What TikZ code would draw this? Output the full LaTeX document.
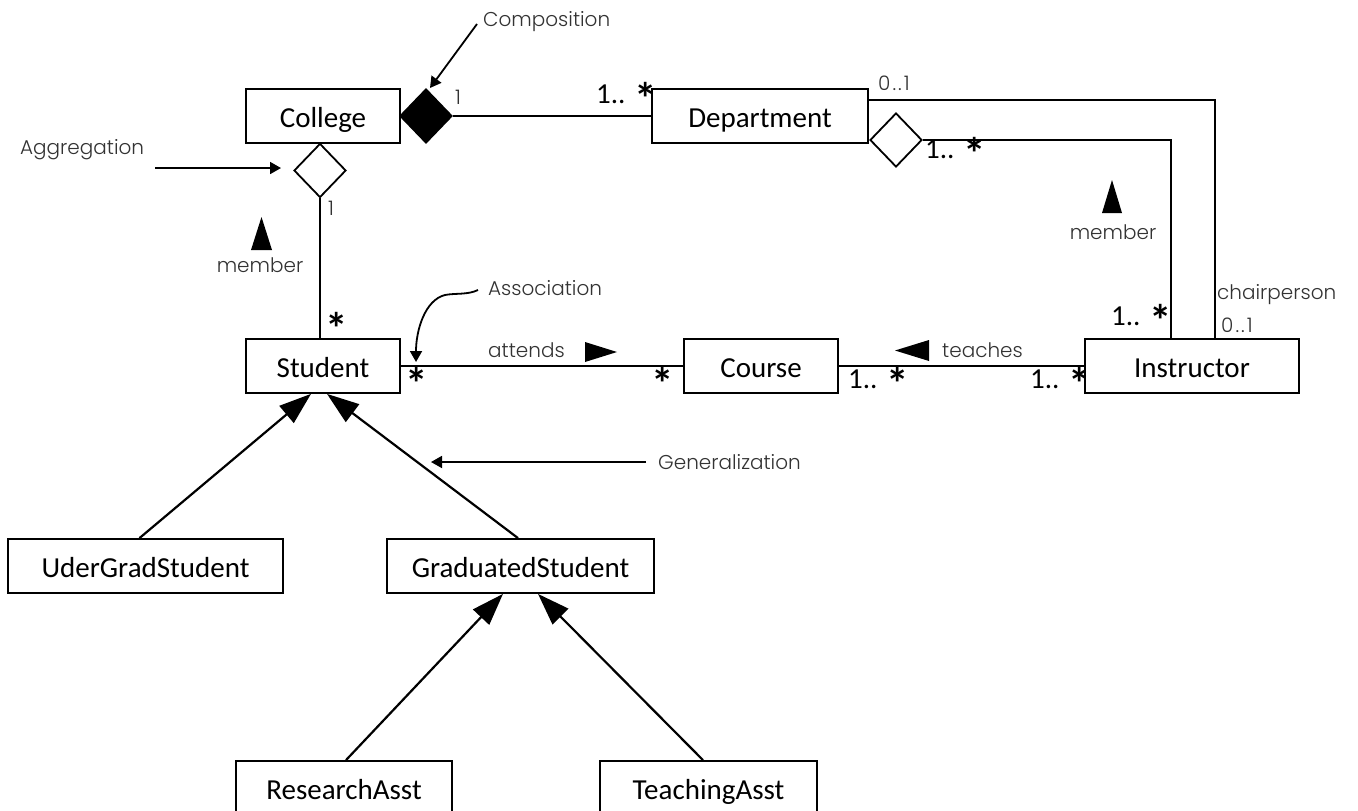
\documentclass[tikz,border=0pt]{standalone}
\usepackage{fontspec}
\setmainfont{Carlito}
\newfontfamily\annotfont{Poppins Light}
\usetikzlibrary{arrows.meta,shapes.geometric}
\newcommand\mstar{\raisebox{-11pt}{\fontsize{45}{45}\selectfont\bfseries *}}
\newcommand\zeroone{0\kern2pt.\kern2pt.\kern2pt1}
\tikzset{
  cls/.style={draw, line width=1.8pt, minimum height=54pt, inner sep=0pt, text height=25pt, text depth=3pt, font=\fontsize{29}{34}\selectfont},
  ann/.style={font=\annotfont\fontsize{20}{24}\selectfont, text=black!80, inner sep=0pt, anchor=west},
  mult/.style={font=\fontsize{29}{34}\selectfont, inner sep=0pt, anchor=west},
  dia/.style={draw, diamond, line width=1.8pt, inner sep=0pt, minimum width=52pt, minimum height=54pt},
  conn/.style={line width=1.8pt},
  gen/.style={line width=2.2pt, -{Triangle[length=32pt,width=22pt]}},
  annarrow/.style={line width=1.8pt, -{Triangle[length=11pt,width=12pt]}},
}
\begin{document}
\begin{tikzpicture}[x=1pt,y=-1pt]
\clip (0,0) rectangle (1358,811);
\fill[white] (0,0) rectangle (1358,811);

% classes
\node[cls, minimum width=154pt] (college) at (323,116) {College};
\node[cls, minimum width=216pt] (dept) at (760,116) {Department};
\node[cls, minimum width=154pt] (student) at (323,366) {Student};
\node[cls, minimum width=154pt] (course) at (761,366) {Course};
\node[cls, minimum width=214pt] (instr) at (1192,366) {Instructor};
\node[cls, minimum width=275pt] (ugs) at (145.5,566) {UderGradStudent};
\node[cls, minimum width=267pt] (gs) at (520.5,566) {GraduatedStudent};
\node[cls, minimum width=216pt] (ra) at (344,788) {ResearchAsst};
\node[cls, minimum width=217pt] (ta) at (708.5,788) {TeachingAsst};

% diamonds
\node[dia, fill=black] (comp) at (426,116) {};
\node[dia, fill=white] (cagg) at (320,170.5) {};
\node[dia, fill=white] (dagg) at (896,140) {};

% connectors
\draw[conn] (comp.east) -- (dept.west |- comp.east);
\draw[conn] (cagg.south) -- (student.north -| cagg.south);
\coordinate (chairTop) at (868,100);
\draw[conn] (chairTop) -| ([xshift=23pt]instr.north);
\draw[conn] (dagg.east) -| ([xshift=-21pt]instr.north);
\draw[conn] (student.east) -- (course.west);
\draw[conn] (course.east) -- (instr.west);

% generalization
\draw[gen] ([xshift=-6pt]ugs.north) -- ([xshift=-12pt]student.south);
\draw[gen] ([xshift=-2.5pt]gs.north) -- ([xshift=4pt]student.south);
\draw[gen] ([xshift=2pt]ra.north) -- ([xshift=-17.5pt]gs.south);
\draw[gen] ([xshift=-5.5pt]ta.north) -- ([xshift=17.5pt]gs.south);

% direction markers
\fill (251,250) -- (272,250) -- (261.5,217) -- cycle;
\fill (1102,213) -- (1122,213) -- (1112,180) -- cycle;
\fill (585,342) -- (617,352) -- (585,362) -- cycle;
\fill (929,340) -- (895,350.5) -- (929,361) -- cycle;

% role labels
\node[ann, anchor=center] (m1) at (260,265) {member};
\node[ann, anchor=center] (m2) at (1113,232) {member};
\node[ann] (att) at (488,350) {attends};
\node[ann] (tea) at (942,350) {teaches};
\node[ann] (chair) at (1217,295) {chairperson};

% multiplicities
\node[ann] (g1) at (455,97) {1};
\node[mult] (k1) at (596,98) {1.. \mstar};
\node[ann] (g2) at (328,208) {1};
\node[mult] (k2) at (325,328) {\mstar};
\node[ann] (g3) at (878,83) {\zeroone};
\node[mult] (k3) at (925,153) {1.. \mstar};
\node[mult] (k4) at (1111,320) {1.. \mstar};
\node[ann] (g4) at (1221,325) {\zeroone};
\node[mult] (k5) at (405,383) {\mstar};
\node[mult] (k6) at (651,383) {\mstar};
\node[mult] (k7) at (848,383) {1.. \mstar};
\node[mult] (k8) at (1030,383) {1.. \mstar};

% annotations
\node[ann] (lcomp) at (483,22) {Composition};
\node[ann] (lagg) at (20,150) {Aggregation};
\node[ann] (lass) at (488,288) {Association};
\node[ann] (lgen) at (658,462) {Generalization};
\coordinate (compTip) at (430,88);
\coordinate (aggTip) at (281,168);
\coordinate (assTip) at (416,362);
\coordinate (genTip) at (431,461);
\draw[annarrow] ([xshift=-6pt,yshift=-2pt]lcomp.west) -- (compTip);
\draw[annarrow] (155,168) -- (aggTip);
\draw[annarrow] ([xshift=-10pt,yshift=-2pt]lass.west) .. controls (468,295) and (455,293) .. (445,295) .. controls (425,300) and (416,330) .. (assTip);
\draw[annarrow] ([xshift=-12pt]lgen.west) -- (genTip |- lgen.west);
\end{tikzpicture}
\end{document}
